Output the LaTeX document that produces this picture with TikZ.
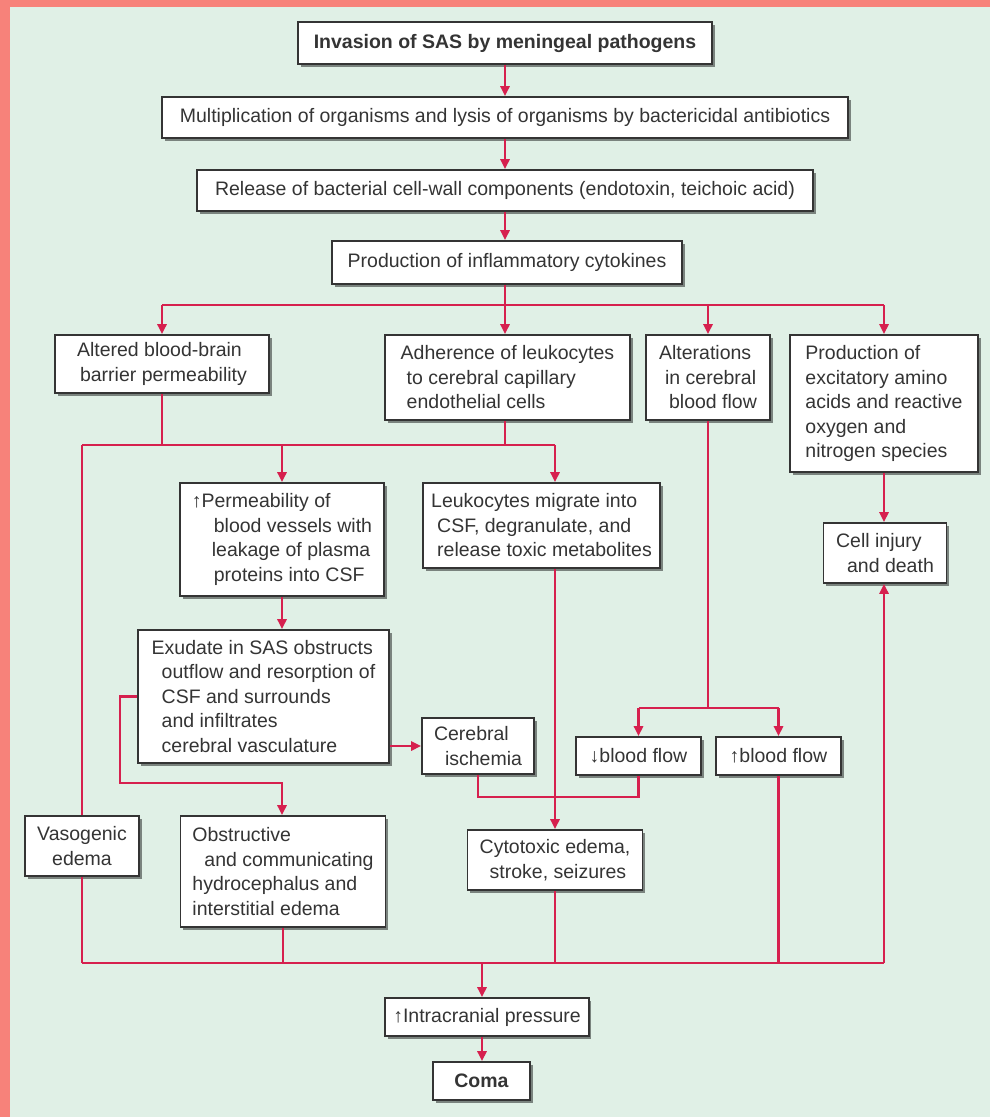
\documentclass[tikz,border=0pt]{standalone}
\usepackage{fontspec}
\setmainfont{Liberation Sans}
\usetikzlibrary{arrows.meta,shadows}
\definecolor{bgmint}{RGB}{224,240,230}
\definecolor{rim}{RGB}{247,130,122}
\definecolor{flow}{RGB}{214,32,78}
\definecolor{ink}{RGB}{52,52,52}
\tikzset{
box/.style={draw=ink, line width=1.6pt, fill=white, text=ink, align=left,
  font=\fontsize{19.5}{24.5}\selectfont, inner xsep=8pt, inner ysep=4pt,
  drop shadow={shadow xshift=2.5pt, shadow yshift=-2.5pt, fill=black, opacity=0.45}},
boldbox/.style={box, font=\fontsize{19.5}{24.5}\selectfont\bfseries},
link/.style={draw=flow, line width=2.6pt},
arr/.style={link, -{Triangle[length=10pt,width=9pt]}}
}

\begin{document}
\begin{tikzpicture}[x=1pt,y=-1pt]
\useasboundingbox (0,0) rectangle (990,1117);
\fill[bgmint] (0,0) rectangle (990,1117);
\fill[rim] (0,0) rectangle (10,1117);
\fill[rim] (0,0) rectangle (990,7);

% top column
\node[boldbox, minimum width=414pt, minimum height=42pt] (top) at (505,43) {Invasion of SAS by meningeal pathogens};
\node[box, minimum width=686pt, minimum height=41pt] (mult) at (505,117.5) {Multiplication of organisms and lysis of organisms by bactericidal antibiotics};
\node[box, minimum width=616pt, minimum height=41pt] (rel) at (505,190.5) {Release of bacterial cell-wall components (endotoxin, teichoic acid)};
\node[box, minimum width=350pt, minimum height=43pt] (prod) at (507,262.5) {Production of inflammatory cytokines};

% second row
\node[box, minimum width=214pt, minimum height=58pt] (abbb) at (162,364) {Altered blood-brain\\\hspace*{3pt}barrier permeability};
\node[box, minimum width=245pt, minimum height=85pt] (adh) at (507.5,377.5) {Adherence of leukocytes\\\hspace*{6pt}to cerebral capillary\\\hspace*{6pt}endothelial cells};
\node[box, minimum width=124pt, minimum height=85pt] (alt) at (708,377.5) {Alterations\\\hspace*{6pt}in cerebral\\\hspace*{10pt}blood flow};
\node[box, minimum width=188pt, minimum height=137pt] (exc) at (884,403.5) {Production of\\excitatory amino\\acids and reactive\\oxygen and\\nitrogen species};

% middle
\node[box, minimum width=204pt, minimum height=113pt] (perm) at (282,539.5) {↑Permeability of\\\hspace*{22pt}blood vessels with\\\hspace*{20pt}leakage of plasma\\\hspace*{22pt}proteins into CSF};
\node[box, minimum width=237pt, minimum height=85pt] (leuk) at (541.5,525.5) {Leukocytes migrate into\\\hspace*{6pt}CSF, degranulate, and\\\hspace*{6pt}release toxic metabolites};
\node[box, minimum width=123pt, minimum height=60pt] (cell) at (885,553) {Cell injury\\\hspace*{11pt}and death};
\node[box, minimum width=251pt, minimum height=133pt] (exud) at (263.5,696.5) {Exudate in SAS obstructs\\\hspace*{10pt}outflow and resorption of\\\hspace*{10pt}CSF and surrounds\\\hspace*{10pt}and infiltrates\\\hspace*{10pt}cerebral vasculature};
\node[box, minimum width=112pt, minimum height=56pt] (isch) at (478,746) {Cerebral\\\hspace*{11pt}ischemia};
\node[box, minimum width=125pt, minimum height=38pt] (dbf) at (638.5,756) {↓blood flow};
\node[box, minimum width=125pt, minimum height=38pt] (ubf) at (778.5,756) {↑blood flow};

% lower row
\node[box, align=center, minimum width=114pt, minimum height=60pt] (vaso) at (82,846) {Vasogenic\\edema};
\node[box, minimum width=205pt, minimum height=111pt] (obst) at (283,871.5) {Obstructive\\\hspace*{12pt}and communicating\\hydrocephalus and\\interstitial edema};
\node[box, minimum width=175pt, minimum height=60pt] (cyto) at (555,860) {Cytotoxic edema,\\\hspace*{10pt}stroke, seizures};
\node[box, minimum width=190pt, minimum height=38pt] (icp) at (487,1017) {↑Intracranial pressure};
\node[boldbox, minimum width=97pt, minimum height=38pt] (coma) at (481.5,1081) {Coma};

\coordinate (brL) at (162,305);
\coordinate (brR) at (884,305);
\coordinate (jL) at (82,445);
\coordinate (jR) at (555,445);
\coordinate (spl) at (0,708);
\coordinate (jn) at (0,797);
\coordinate (bL) at (82,963);
\coordinate (bR) at (884,963);
\coordinate (bM) at (482,963);

\draw[arr] (top.south) -- (top.south |- mult.north);
\draw[arr] (mult.south) -- (mult.south |- rel.north);
\draw[arr] (rel.south) -- (rel.south |- prod.north);

\draw[link] (rel.south |- prod.south) -- (rel.south |- brL);
\draw[link] (brL) -- (brR);
\draw[arr] (rel.south |- brL) -- (rel.south |- adh.north);
\foreach \n in {abbb, alt, exc}
  \draw[arr] (\n.north |- brL) -- (\n.north);

\draw[link] (abbb.south) -- (abbb.south |- jL);
\draw[link] (rel.south |- adh.south) -- (rel.south |- jL);
\draw[link] (jL) -- (jR);
\draw[link] (jL) -- (vaso.north);
\draw[arr] (perm.north |- jL) -- (perm.north);
\draw[arr] (jR) -- (jR |- leuk.north);

\draw[arr] (exc.south) -- (exc.south |- cell.north);
\draw[arr] (perm.south) -- (perm.south |- exud.north);
\draw[arr] (exud.west) -- (120,696.5) -- (120,783) -- (perm.south |- 0,783) -- (perm.south |- obst.north);
\draw[arr] (exud.east |- isch.west) -- (isch.west);

\draw[link] (alt.south) -- (alt.south |- spl);
\draw[link] (dbf.north |- spl) -- (ubf.north |- spl);
\draw[arr] (dbf.north |- spl) -- (dbf.north);
\draw[arr] (ubf.north |- spl) -- (ubf.north);

\draw[link] (isch.south) -- (isch.south |- jn) -| (dbf.south);
\draw[arr] (jR |- leuk.south) -- (jR |- cyto.north);

\foreach \n in {vaso, obst, cyto, ubf}
  \draw[link] (\n.south) -- (\n.south |- bL);
\draw[link] (bL) -- (bR);
\draw[arr] (bR) -- (bR |- cell.south);
\draw[arr] (bM) -- (bM |- icp.north);
\draw[arr] (bM |- icp.south) -- (bM |- coma.north);
\end{tikzpicture}
\end{document}
